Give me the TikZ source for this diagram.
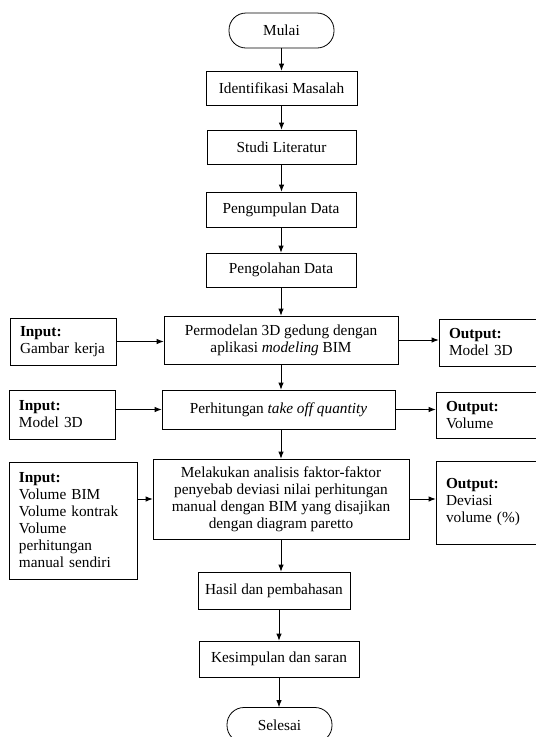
\documentclass[tikz,border=0pt]{standalone}
\usepackage{fontspec}
\setmainfont{Liberation Serif}
\usetikzlibrary{arrows.meta}
\begin{document}
\begin{tikzpicture}[x=1pt,y=-1pt,
  every node/.style={font=\fontsize{15.3}{17}\selectfont},
  box/.style={draw,line width=0.8pt,inner sep=0pt,align=center},
  term/.style={box,rounded corners=17pt,minimum width=105pt,minimum height=35pt},
  io/.style={draw,line width=0.8pt,inner xsep=10pt,inner ysep=0pt,align=left},
  arr/.style={-{Latex[length=7pt,width=5.5pt]},line width=0.8pt}]
\useasboundingbox (0,0) rectangle (536,737);
\node[term] (mulai) at (281.5,30.5) {Mulai};
\node[box,minimum width=151pt,minimum height=34pt] (identifikasi) at (281.5,88) {Identifikasi Masalah};
\node[box,minimum width=149pt,minimum height=34pt] (studi) at (281.5,147) {Studi Literatur};
\node[box,minimum width=150pt,minimum height=35pt] (pengumpulan) at (281,209.5) {Pengumpulan Data};
\node[box,minimum width=150pt,minimum height=34pt] (pengolahan) at (281,270) {Pengolahan Data};
\node[box,minimum width=234pt,minimum height=48pt] (permodelan) at (281,340) {Permodelan 3D gedung dengan\\aplikasi \textit{modeling} BIM};
\node[box,minimum width=233pt,minimum height=39pt] (perhitungan) at (278.5,409.5) {Perhitungan \textit{take off quantity}};
\node[box,minimum width=256pt,minimum height=80pt] (melakukan) at (281,499) {Melakukan analisis faktor-faktor\\penyebab deviasi nilai perhitungan\\manual dengan BIM yang disajikan\\dengan diagram paretto};
\node[box,minimum width=152pt,minimum height=37pt] (hasil) at (274,590.5) {Hasil dan pembahasan};
\node[box,minimum width=160pt,minimum height=36pt] (kesimpulan) at (279,659) {Kesimpulan dan saran};
\node[term] (selesai) at (279.5,725) {Selesai};
\node[io,text width=86pt,minimum height=47pt] (inGambar) at (63,341.5) {\textbf{Input:}\\Gambar kerja};
\node[io,text width=86pt,minimum height=49pt] (inModel) at (62,414.5) {\textbf{Input:}\\Model 3D};
\node[io,text width=108pt,minimum height=117pt] (inVolume) at (73,520.5) {\textbf{Input:}\\Volume BIM\\Volume kontrak\\Volume\\perhitungan\\manual sendiri};
\node[io,text width=77pt,minimum height=47pt] (outModel) at (487.5,342.5) {\textbf{Output:}\\Model 3D};
\node[io,text width=80pt,minimum height=46pt] (outVolume) at (486,415) {\textbf{Output:}\\Volume};
\node[io,text width=80pt,minimum height=83pt] (outDeviasi) at (486,502.5) {\textbf{Output:}\\Deviasi\\volume (\%)};
\draw[arr] (mulai.south) -- (mulai.south |- identifikasi.north);
\draw[arr] (identifikasi.south) -- (identifikasi.south |- studi.north);
\draw[arr] (studi.south) -- (studi.south |- pengumpulan.north);
\draw[arr] (pengumpulan.south) -- (pengumpulan.south |- pengolahan.north);
\draw[arr] (pengolahan.south) -- (pengolahan.south |- permodelan.north);
\draw[arr] (permodelan.south) -- (permodelan.south |- perhitungan.north);
\draw[arr] (melakukan.north |- perhitungan.south) -- (melakukan.north);
\draw[arr] (melakukan.south) -- (melakukan.south |- hasil.north);
\draw[arr] (kesimpulan.north |- hasil.south) -- (kesimpulan.north);
\draw[arr] (kesimpulan.south) -- (kesimpulan.south |- selesai.north);
\draw[arr] (inGambar.east) -- (inGambar.east -| permodelan.west);
\draw[arr] (inModel.east |- perhitungan.west) -- (perhitungan.west);
\draw[arr] (inVolume.east |- melakukan.west) -- (melakukan.west);
\draw[arr] (permodelan.east) -- (permodelan.east -| outModel.west);
\draw[arr] (perhitungan.east) -- (perhitungan.east -| outVolume.west);
\draw[arr] (melakukan.east) -- (melakukan.east -| outDeviasi.west);
\end{tikzpicture}
\end{document}
